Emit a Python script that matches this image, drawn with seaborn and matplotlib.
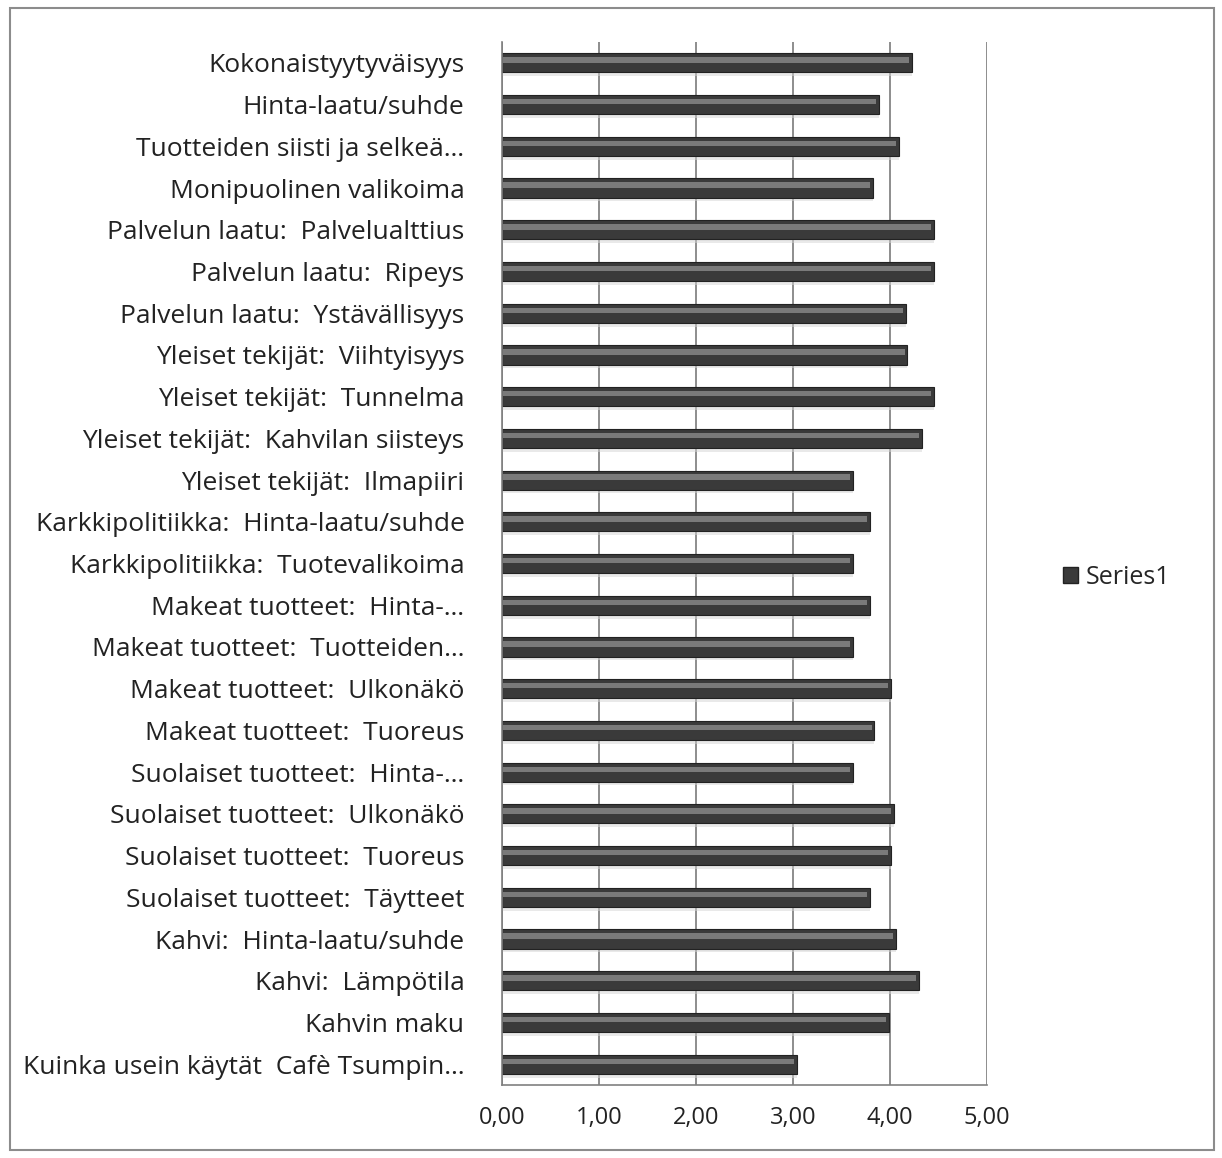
import numpy as np
import pandas as pd
import matplotlib
matplotlib.use("Agg")
import matplotlib.pyplot as plt
import seaborn as sns
from matplotlib.patches import Rectangle

# categories, top to bottom as shown
labels = [
    "Kokonaistyytyväisyys",
    "Hinta-laatu/suhde",
    "Tuotteiden siisti ja selkeä…",
    "Monipuolinen valikoima",
    "Palvelun laatu:  Palvelualttius",
    "Palvelun laatu:  Ripeys",
    "Palvelun laatu:  Ystävällisyys",
    "Yleiset tekijät:  Viihtyisyys",
    "Yleiset tekijät:  Tunnelma",
    "Yleiset tekijät:  Kahvilan siisteys",
    "Yleiset tekijät:  Ilmapiiri",
    "Karkkipolitiikka:  Hinta-laatu/suhde",
    "Karkkipolitiikka:  Tuotevalikoima",
    "Makeat tuotteet:  Hinta-…",
    "Makeat tuotteet:  Tuotteiden…",
    "Makeat tuotteet:  Ulkonäkö",
    "Makeat tuotteet:  Tuoreus",
    "Suolaiset tuotteet:  Hinta-…",
    "Suolaiset tuotteet:  Ulkonäkö",
    "Suolaiset tuotteet:  Tuoreus",
    "Suolaiset tuotteet:  Täytteet",
    "Kahvi:  Hinta-laatu/suhde",
    "Kahvi:  Lämpötila",
    "Kahvin maku",
    "Kuinka usein käytät  Cafè Tsumpin…",
]
values = [4.23, 3.89, 4.09, 3.82, 4.45, 4.45, 4.16, 4.18, 4.45, 4.33,
          3.62, 3.79, 3.62, 3.79, 3.62, 4.01, 3.84, 3.62, 4.04, 4.01,
          3.79, 4.06, 4.30, 3.99, 3.04]
x_ticks = [0, 1, 2, 3, 4, 5]
x_ticklabels = ["0,00", "1,00", "2,00", "3,00", "4,00", "5,00"]
series_name = "Series1"

df = pd.DataFrame({"label": labels, "value": values})

sns.set_style("white")
plt.rcParams["font.family"] = ["Open Sans", "DejaVu Sans"]

fig = plt.figure(figsize=(12.22, 11.58), dpi=100)
ax = fig.add_axes([0.4108, 0.0630, 0.3969, 0.9007])
n = len(labels)

# soft shadow under each bar
sns.barplot(data=df, x="value", y="label", orient="h", color="#d4d4d4",
            width=0.46, ax=ax, saturation=1, linewidth=0)
for p in ax.patches[:n]:
    p.set_y(p.get_y() + 0.09)
    p.set_alpha(0.5)

# main dark bar
sns.barplot(data=df, x="value", y="label", orient="h", color="#3a3a3a",
            width=0.46, ax=ax, saturation=1, edgecolor="#222222", linewidth=0.8)

# lighter band in the upper half for the cylinder look
sns.barplot(data=df, x="value", y="label", orient="h", color="#7a7a7a",
            width=0.13, ax=ax, saturation=1, linewidth=0)
for p in ax.patches[2 * n:]:
    p.set_y(p.get_y() - 0.07)
    p.set_x(0.01)
    p.set_width(p.get_width() - 0.04)

ax.set_xlim(0, 5)
ax.set_ylim(n - 0.5, -0.5)
ax.set_xticks(x_ticks)
ax.set_xticklabels(x_ticklabels, fontsize=17, color="#222222")
ax.set_xlabel("")
ax.set_ylabel("")
ax.tick_params(axis="y", which="major", length=0, pad=27, labelsize=19,
               labelcolor="#222222")
ax.set_yticks(np.arange(-0.5, n, 1), minor=True)
ax.tick_params(axis="y", which="minor", length=7, color="#808080", direction="out")
ax.tick_params(axis="x", length=7, color="#808080", direction="out", pad=8)

ax.grid(axis="x", color="#7a7a7a", linewidth=1.2)
ax.set_axisbelow(True)
for s in ["top", "right"]:
    ax.spines[s].set_visible(False)
for s in ["left", "bottom"]:
    ax.spines[s].set_color("#808080")
    ax.spines[s].set_linewidth(1.2)

# legend
ax.legend(handles=[Rectangle((0, 0), 1, 1, facecolor="#3a3a3a", edgecolor="#222222")],
          labels=[series_name], loc="center left", bbox_to_anchor=(1.11, 0.487),
          frameon=False, fontsize=18, handlelength=0.6, handleheight=0.6,
          handletextpad=0.3)

# outer chart frame
fig.patches.append(Rectangle((10 / 1222, 8 / 1158), 1204 / 1222, 1142 / 1158,
                             transform=fig.transFigure, fill=False,
                             edgecolor="#8c8c8c", linewidth=1.5))

fig.savefig("out.png", dpi=100)
